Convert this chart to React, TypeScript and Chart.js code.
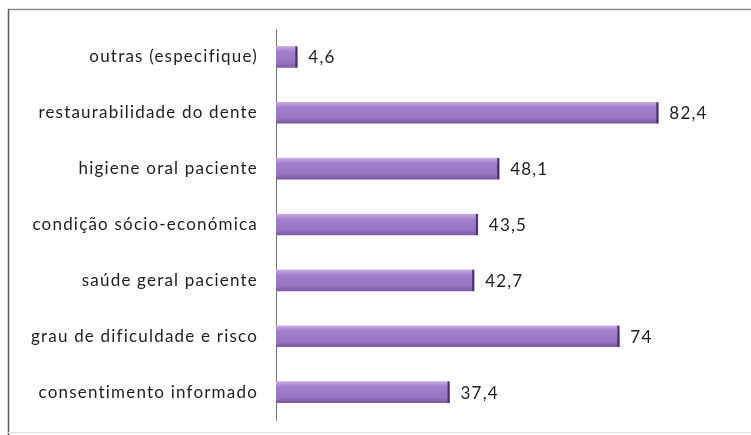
import React, { useEffect, useRef } from "react";
import { Chart, registerables } from "chart.js";

Chart.register(...registerables);

const categories = [
  "outras (especifique)",
  "restaurabilidade do dente",
  "higiene oral paciente",
  "condição sócio-económica",
  "saúde geral paciente",
  "grau de dificuldade e risco",
  "consentimento informado",
];
const values = [4.6, 82.4, 48.1, 43.5, 42.7, 74, 37.4];

const FONT = "Lato, 'Open Sans', sans-serif";
const BAR_THICK = 21;
const SPACING = "1.2px";

const frame = {
  id: "frame",
  beforeDraw(chart: any) {
    const c = chart.ctx;
    c.save();
    c.fillStyle = "#ffffff";
    c.fillRect(0, 0, chart.width, chart.height);
    c.lineWidth = 1.5;
    c.strokeStyle = "#8c8c8c";
    c.beginPath();
    c.moveTo(8, 9.5);
    c.lineTo(chart.width, 9.5);
    c.stroke();
    c.strokeStyle = "#5a5a5a";
    c.beginPath();
    c.moveTo(8.5, 9);
    c.lineTo(8.5, chart.height);
    c.stroke();
    c.lineWidth = 1;
    c.strokeStyle = "#dddddd";
    c.beginPath();
    c.moveTo(8, 432.5);
    c.lineTo(chart.width, 432.5);
    c.stroke();
    c.restore();
    c.letterSpacing = SPACING;
  },
};

const valueLabels = {
  id: "valueLabels",
  afterDatasetsDraw(chart: any) {
    const c = chart.ctx;
    const meta = chart.getDatasetMeta(0);
    c.save();
    c.letterSpacing = SPACING;
    c.font = `17px ${FONT}`;
    c.textAlign = "left";
    c.textBaseline = "middle";
    meta.data.forEach((bar: any, i: number) => {
      c.fillStyle = "#4a2f72";
      c.fillRect(bar.x - 2, bar.y - BAR_THICK / 2, 2, BAR_THICK);
      c.fillStyle = "#1e1e1e";
      const txt = String(values[i]).replace(".", ",");
      c.fillText(txt, bar.x + 11, bar.y + 1);
    });
    c.restore();
  },
};

export default function App() {
  const ref = useRef<HTMLCanvasElement>(null);
  useEffect(() => {
    if (!ref.current) return;
    const chart = new Chart(ref.current, {
      type: "bar",
      data: {
        labels: categories,
        datasets: [
          {
            data: values,
            barThickness: BAR_THICK,
            borderWidth: 0,
            backgroundColor: (ctx: any) => {
              const ch = ctx.chart;
              const ys = ch.scales && ch.scales.y;
              if (!ys || ctx.dataIndex === undefined) return "#9672c2";
              const cy = ys.getPixelForValue(ctx.dataIndex);
              if (!Number.isFinite(cy)) return "#9672c2";
              const g = ch.ctx.createLinearGradient(0, cy - BAR_THICK / 2, 0, cy + BAR_THICK / 2);
              g.addColorStop(0, "#c6a9e0");
              g.addColorStop(0.25, "#a27fcb");
              g.addColorStop(0.75, "#9874c2");
              g.addColorStop(1, "#7c5aa6");
              return g;
            },
          },
        ],
      },
      options: {
        indexAxis: "y",
        animation: false,
        responsive: false,
        maintainAspectRatio: false,
        layout: { padding: { top: 29, bottom: 15, left: 0, right: 11 } },
        plugins: {
          legend: { display: false },
          tooltip: { enabled: false },
        },
        scales: {
          x: { display: false, min: 0, max: 100 },
          y: {
            afterFit: (s: any) => {
              s.width = 276;
              s.paddingTop = 0;
              s.paddingBottom = 0;
            },
            grid: { display: false, drawTicks: false },
            border: { display: true, color: "#777777", width: 1 },
            ticks: {
              padding: 18,
              color: "#1e1e1e",
              font: { family: FONT, size: 17 },
            },
          },
        },
      },
      plugins: [frame, valueLabels],
    });
    return () => chart.destroy();
  }, []);
  return (
    <div style={{ position: "absolute", left: 0, top: 0, width: 751, height: 435 }}>
      <canvas ref={ref} width={751} height={435} style={{ width: 751, height: 435 }} />
    </div>
  );
}
